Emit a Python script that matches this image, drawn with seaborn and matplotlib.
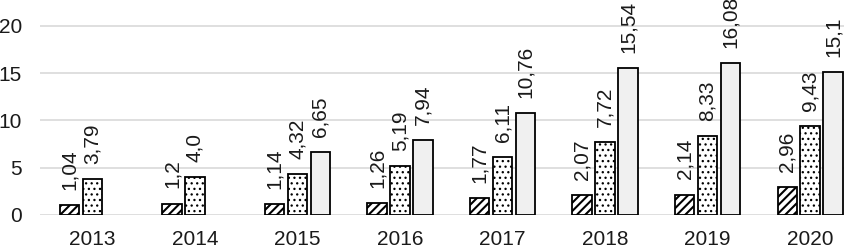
import numpy as np
import pandas as pd
import seaborn as sns
import matplotlib.pyplot as plt

years = ['2013', '2014', '2015', '2016', '2017', '2018', '2019', '2020']
series_names = ['s1', 's2', 's3']
s1 = [1.04, 1.2, 1.14, 1.26, 1.77, 2.07, 2.14, 2.96]
s2 = [3.79, 4.0, 4.32, 5.19, 6.11, 7.72, 8.33, 9.43]
s3 = [np.nan, np.nan, 6.65, 7.94, 10.76, 15.54, 16.08, 15.1]
s1_labels = ['1,04', '1,2', '1,14', '1,26', '1,77', '2,07', '2,14', '2,96']
s2_labels = ['3,79', '4,0', '4,32', '5,19', '6,11', '7,72', '8,33', '9,43']
s3_labels = ['', '', '6,65', '7,94', '10,76', '15,54', '16,08', '15,1']

sns.set_style('white')
plt.rcParams['font.family'] = ['Liberation Sans', 'DejaVu Sans']
plt.rcParams['hatch.linewidth'] = 1.5

rows = []
for name, vals in zip(series_names, [s1, s2, s3]):
    for y, v in zip(years, vals):
        if not np.isnan(v):
            rows.append({'year': y, 'series': name, 'value': v})
df = pd.DataFrame(rows)

fig = plt.figure(figsize=(8.44, 2.48), dpi=100)
ax = fig.add_axes([40 / 844, 33 / 248, 1 - 40 / 844, 1 - 33 / 248])

sns.barplot(data=df, x='year', y='value', hue='series', order=years,
            hue_order=series_names, width=0.67, gap=0.15, ax=ax,
            legend=False, edgecolor='black', linewidth=1.3)

fills = ['white', 'white', '#f0f0f0']
hatches = ['////', '...', None]
hatch_lw = [1.5, 0.9, 1.0]
all_labels = [s1_labels, s2_labels, s3_labels]
for cont, fc, h, hl, labs in zip(ax.containers, fills, hatches, hatch_lw, all_labels):
    cur = []
    for p in cont.patches:
        p.set_facecolor(fc)
        p.set_edgecolor('black')
        if h:
            p.set_hatch(h)
            if hasattr(p, 'set_hatch_linewidth'):
                p.set_hatch_linewidth(hl)
        idx = int(round(p.get_x() + p.get_width() / 2))
        cur.append(labs[idx])
    ax.bar_label(cont, labels=cur, rotation=90, padding=11, fontsize=15,
                 color='#1a1a1a')

ax.set_xlim(-0.51, 7.33)
ax.set_ylim(0, 22.75)
ax.set_yticks([0, 5, 10, 15, 20])
ax.set_xlabel('')
ax.set_ylabel('')
ax.grid(axis='y', color='#d9d9d9', linewidth=1.2)
ax.set_axisbelow(True)
sns.despine(ax=ax, left=True, bottom=True)
ax.tick_params(axis='both', length=0, labelsize=15, colors='#1a1a1a')
ax.tick_params(axis='y', pad=13)
ax.tick_params(axis='x', pad=11)

fig.savefig('out.png', dpi=100)
